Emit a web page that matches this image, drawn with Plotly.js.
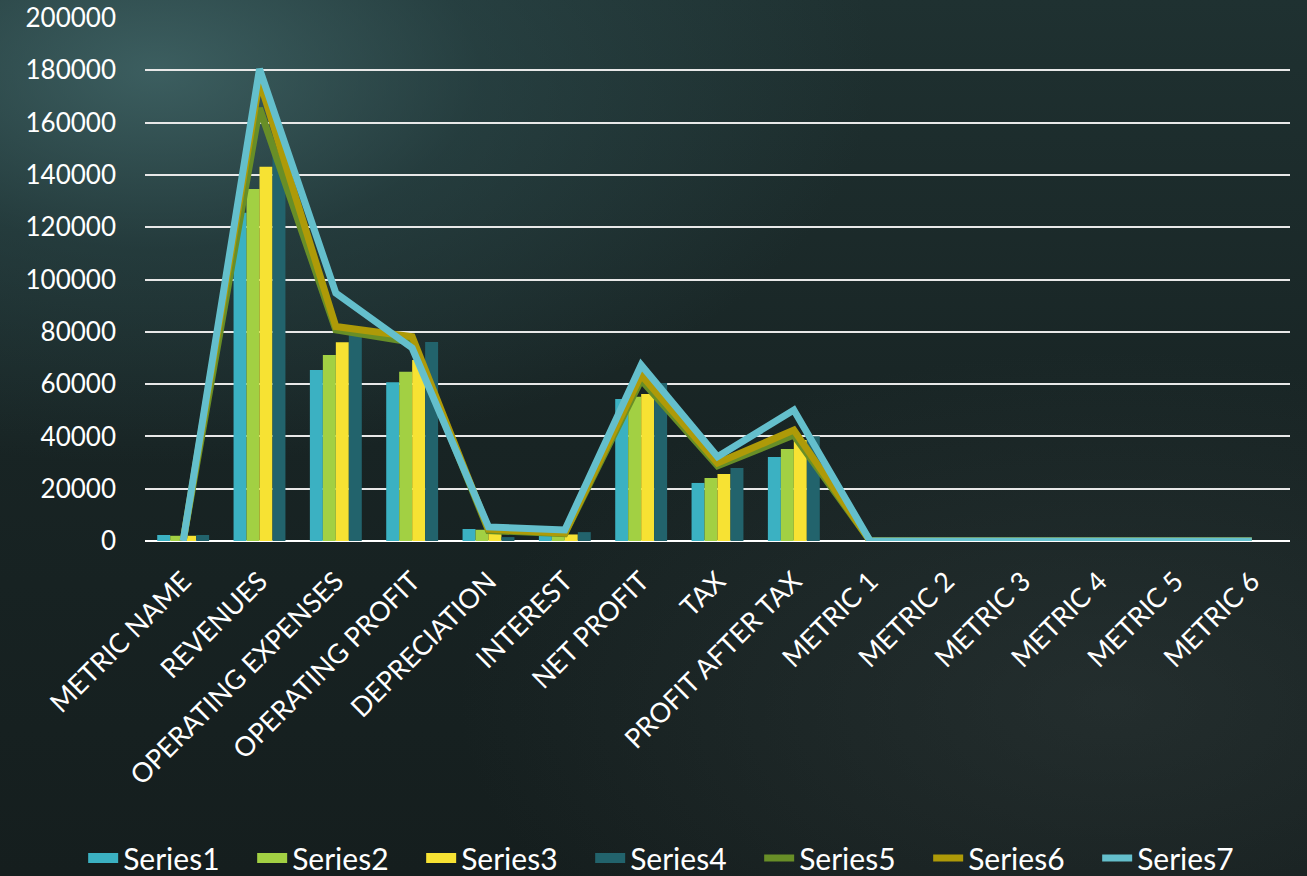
<!DOCTYPE html>
<html>
<head>
<meta charset="utf-8">
<script src="https://cdn.plot.ly/plotly-3.0.1.min.js"></script>
<style>
html,body{margin:0;padding:0;width:1307px;height:876px;overflow:hidden;}
body{background:
 radial-gradient(ellipse 55% 45% at 12% 8%, rgba(70,110,112,0.75) 0%, rgba(50,85,88,0.4) 45%, rgba(0,0,0,0) 100%),
 radial-gradient(ellipse 50% 40% at 85% 80%, rgba(60,70,70,0.35) 0%, rgba(0,0,0,0) 100%),
 linear-gradient(180deg,#1f3131 0%,#182424 50%,#151e1e 100%);}
#chart{width:1307px;height:876px;}
</style>
</head>
<body>
<div id="chart"></div>
<script>
const categories = ["METRIC NAME","REVENUES","OPERATING EXPENSES","OPERATING PROFIT","DEPRECIATION","INTEREST","NET PROFIT","TAX","PROFIT AFTER TAX","METRIC 1","METRIC 2","METRIC 3","METRIC 4","METRIC 5","METRIC 6"];
const series1 = [2300,125500,65400,60700,4600,3000,54300,22200,32100,0,0,0,0,0,0];
const series2 = [2000,134600,71100,64700,4300,2600,55200,24100,35200,0,0,0,0,0,0];
const series3 = [2000,143100,76000,69200,3000,2500,56200,25600,38600,0,0,0,0,0,0];
const series4 = [2300,147600,78800,76100,1500,3400,60400,27900,40100,0,0,0,0,0,0];
const series5 = [0,165500,80700,76000,4000,2800,61600,28700,40500,0,0,0,0,0,0];
const series6 = [0,176000,82000,78100,4500,3000,63500,29800,42400,0,0,0,0,0,0];
const series7 = [0,180500,94800,73800,5400,4200,67300,32200,50100,0,0,0,0,0,0];
const seriesNames = ["Series1","Series2","Series3","Series4","Series5","Series6","Series7"];

const barColors = ["#3bb1c2","#a2d043","#f7e233","#22636c"];
const lineColors = ["#688e27","#ae9a08","#64bfcc"];

const bars = [series1,series2,series3,series4].map((v,i)=>({
  type:'bar', x:categories, y:v, name:seriesNames[i], legendgroup:seriesNames[i], showlegend:false,
  marker:{color:barColors[i], line:{width:0}}
}));
// legend entries for the bar series (wide swatches as in the original)
const barKeys = barColors.map((c,i)=>({
  type:'scatter', mode:'lines', x:[null], y:[null], name:seriesNames[i], legendgroup:seriesNames[i],
  line:{color:c, width:20}, hoverinfo:'skip'
}));
const lines = [series5,series6,series7].map((v,i)=>({
  type:'scatter', mode:'lines', x:categories, y:v, name:seriesNames[4+i],
  line:{color:lineColors[i], width:7}
}));

const fam = 'Lato, "Open Sans", sans-serif';
const layout = {
  width:1307, height:876,
  paper_bgcolor:'rgba(0,0,0,0)', plot_bgcolor:'rgba(0,0,0,0)',
  margin:{l:145, r:17, t:18, b:335, autoexpand:false},
  barmode:'group', bargap:0.32, bargroupgap:0,
  font:{family:fam, color:'#ffffff'},
  showlegend:true,
  legend:{orientation:'h', x:-0.054, xanchor:'left', y:-0.606, yanchor:'middle',
    font:{family:fam, size:30, color:'#ffffff'}, bgcolor:'rgba(0,0,0,0)',
    itemwidth:30, entrywidth:124, entrywidthmode:'pixels', tracegroupgap:0, traceorder:'normal'},
  xaxis:{type:'category', tickangle:-45, tickfont:{family:fam, size:27, color:'#ffffff'},
    showgrid:false, zeroline:false, showline:false, ticks:'', ticklabelstandoff:18, automargin:false},
  yaxis:{range:[0,200000], dtick:20000, tickformat:'d', showgrid:true, gridcolor:'#e8e8e8', gridwidth:2,
    zeroline:true, zerolinecolor:'#ffffff', zerolinewidth:2, showline:false, ticks:'', automargin:false,
    tickfont:{family:fam, size:26, color:'#ffffff'}, ticklabelstandoff:28}
};
Plotly.newPlot('chart', bars.concat(barKeys, lines), layout, {displayModeBar:false, staticPlot:true});
</script>
</body>
</html>
